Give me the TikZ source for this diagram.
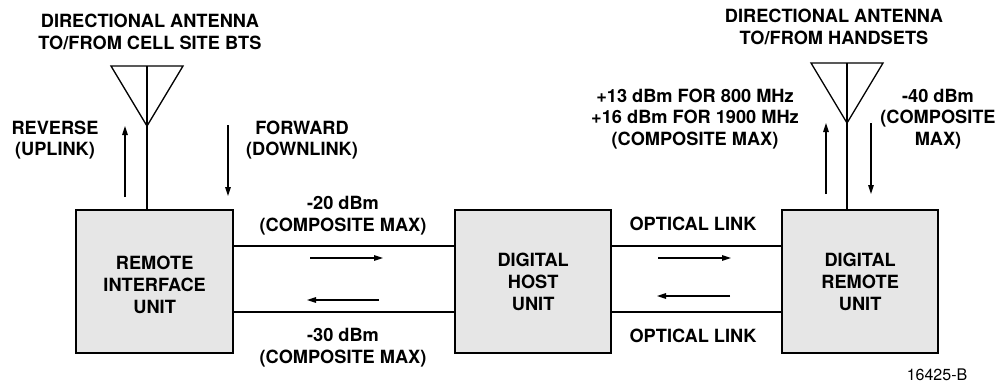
\documentclass[tikz,border=0pt]{standalone}
\usepackage{fontspec}
\setmainfont{TeX Gyre Heros}
\usetikzlibrary{arrows.meta}
\tikzset{
  unitbox/.style={draw=black, line width=2.3pt, fill=boxgray, inner sep=0pt},
  lbl/.style={font=\bfseries\fontsize{18.2}{21.8}\selectfont, align=center, inner sep=0pt},
  thin/.style={line width=1.3pt},
  arr/.style={line width=1.3pt, -{Triangle[length=9pt,width=5.5pt]}},
}
\definecolor{boxgray}{HTML}{E6E6E6}
\begin{document}
\begin{tikzpicture}[x=1pt,y=-1pt]
\useasboundingbox (0,0) rectangle (1000,386);
% boxes
\node[unitbox, minimum width=157pt, minimum height=143pt, anchor=north west] (riu) at (75,209) {};
\node[unitbox, minimum width=156pt, minimum height=143pt, anchor=north west] (dhu) at (454,209) {};
\node[unitbox, minimum width=156pt, minimum height=143pt, anchor=north west] (dru) at (781,209) {};
\node[lbl] at ([yshift=-3.5pt]riu.center) {REMOTE\\INTERFACE\\UNIT};
\node[lbl] at (dhu.center) {DIGITAL\\HOST\\UNIT};
\node[lbl] at (dru.center) {DIGITAL\\REMOTE\\UNIT};
% links
\draw[thin] (riu.east |- 0,246) -- (dhu.west |- 0,246);
\draw[thin] (riu.east |- 0,312) -- (dhu.west |- 0,312);
\draw[thin] (dhu.east |- 0,246) -- (dru.west |- 0,246);
\draw[thin] (dhu.east |- 0,312) -- (dru.west |- 0,312);
\coordinate (a1s) at (310,258); \coordinate (a1e) at (383,258);
\coordinate (a2s) at (379,300); \coordinate (a2e) at (307,300);
\coordinate (a3s) at (658,258); \coordinate (a3e) at (731,258);
\coordinate (a4s) at (730,296); \coordinate (a4e) at (657,296);
\draw[arr] (a1s) -- (a1e);
\draw[arr] (a2s) -- (a2e);
\draw[arr] (a3s) -- (a3e);
\draw[arr] (a4s) -- (a4e);
% link labels
\node[lbl] (l20) at (343,216) {-20 dBm\\(COMPOSITE MAX)};
\node[lbl] (l30) at (343,348) {-30 dBm\\(COMPOSITE MAX)};
\node[lbl] (ol1) at (693,224) {OPTICAL LINK};
\node[lbl] (ol2) at (693,336) {OPTICAL LINK};
% left antenna
\coordinate (lt1) at (111,66); \coordinate (lt2) at (183,66); \coordinate (lap) at (147,126);
\draw[thin, line join=miter] (lt1) -- (lt2) -- (lap) -- cycle;
\draw[thin] (147,66) -- (riu.north -| 147,0);
\coordinate (lu1) at (125,197); \coordinate (lu2) at (125,126);
\coordinate (ld1) at (228,125); \coordinate (ld2) at (228,196);
\draw[arr] (lu1) -- (lu2);
\draw[arr] (ld1) -- (ld2);
\node[lbl] (lant) at (150,32) {DIRECTIONAL ANTENNA\\TO/FROM CELL SITE BTS};
\node[lbl] (rev) at (55,140) {REVERSE\\(UPLINK)};
\node[lbl] (fwd) at (302,140) {FORWARD\\(DOWNLINK)};
% right antenna
\coordinate (rt1) at (811,63); \coordinate (rt2) at (883,63); \coordinate (rap) at (847,123);
\draw[thin, line join=miter] (rt1) -- (rt2) -- (rap) -- cycle;
\draw[thin] (847,63) -- (dru.north -| 847,0);
\coordinate (ru1) at (826,194); \coordinate (ru2) at (826,123);
\coordinate (rd1) at (871,123); \coordinate (rd2) at (871,194);
\draw[arr] (ru1) -- (ru2);
\draw[arr] (rd1) -- (rd2);
\node[lbl] (rant) at (834,27) {DIRECTIONAL ANTENNA\\TO/FROM HANDSETS};
\node[lbl] (p13) at (695,119) {+13 dBm FOR 800 MHz\\+16 dBm FOR 1900 MHz\\(COMPOSITE MAX)};
\node[lbl] (m40) at (938,119) {-40 dBm\\(COMPOSITE\\MAX)};
\node[font=\fontsize{16}{19}\selectfont, inner sep=0pt] (fig) at (937,375) {16425-B};
\end{tikzpicture}
\end{document}
